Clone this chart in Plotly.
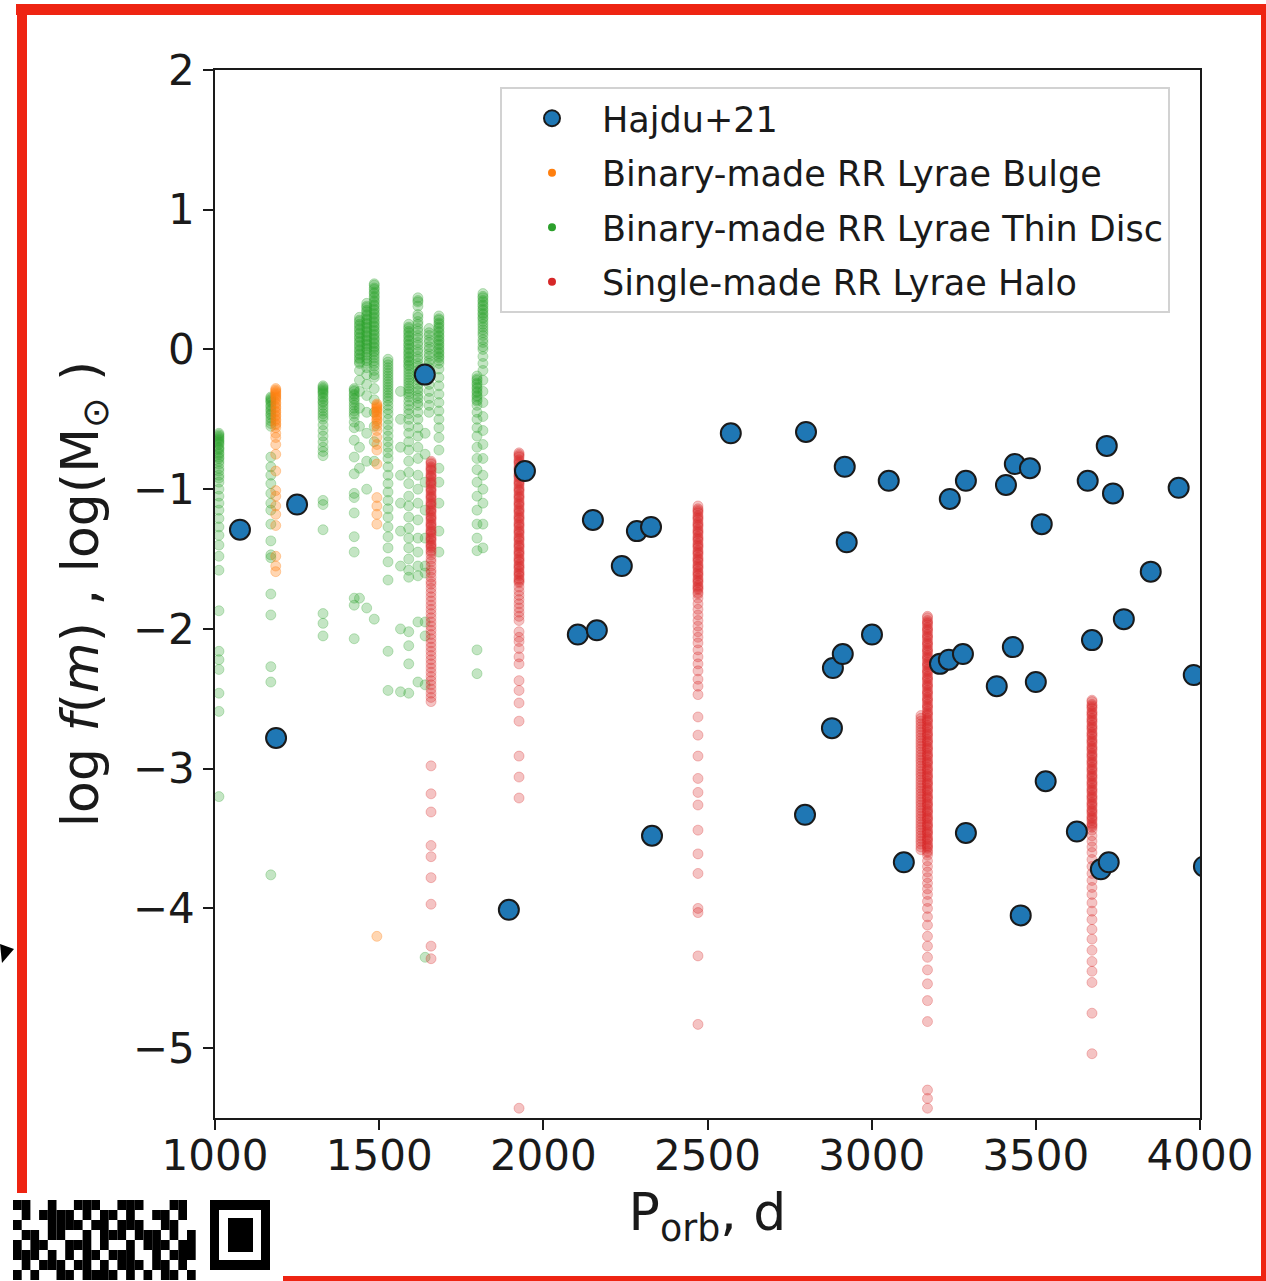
import plotly.graph_objects as go

# ---------------- data ----------------
# Hajdu+21 observed systems: orbital period (d) and log f(m)
hajdu_porb = [1076, 1186, 1250, 1639, 1895, 1944, 2105, 2163, 2151, 2239, 2285, 2328, 2331,
              2571, 2800, 2797, 2918, 2924, 2882, 2912, 2879, 3001, 3052, 3098, 3208, 3235,
              3278, 3238, 3287, 3287, 3381, 3409, 3436, 3482, 3430, 3454, 3500, 3518, 3530,
              3625, 3658, 3671, 3716, 3735, 3698, 3722, 3768, 3850, 3935, 3981, 4012]
hajdu_logfm = [-1.29, -2.78, -1.11, -0.18, -4.01, -0.87, -2.04, -2.01, -1.22, -1.55, -1.30, -1.27, -3.48,
               -0.60, -0.59, -3.33, -0.84, -1.38, -2.28, -2.18, -2.71, -2.04, -0.94, -3.67, -2.25, -2.22,
               -2.18, -1.07, -0.94, -3.46, -2.41, -0.97, -0.82, -0.85, -2.13, -4.05, -2.38, -1.25, -3.09,
               -3.45, -0.94, -2.08, -0.69, -1.03, -3.72, -3.67, -1.93, -1.59, -0.99, -2.33, -3.70]

# Binary-made RR Lyrae, Thin Disc: one list of log f(m) per orbital-period column
disc_col_porb = [1012, 1170, 1329, 1424, 1440, 1462, 1485, 1527, 1565, 1590, 1618, 1640, 1652, 1682, 1798, 1816]
disc_col_logfm = [
    [-0.60, -0.61, -0.62, -0.63, -0.64, -0.65, -0.66, -0.67, -0.68, -0.70, -0.71, -0.72, -0.74, -0.75, -0.77,
     -0.78, -0.80, -0.82, -0.85, -0.87, -0.90, -0.92, -0.95, -1.00, -1.05, -1.10, -1.15, -1.21, -1.27, -1.33,
     -1.40, -1.48, -1.58, -1.87, -2.16, -2.22, -2.29, -2.46, -2.59, -3.20],
    [-0.34, -0.35, -0.36, -0.37, -0.38, -0.40, -0.41, -0.43, -0.44, -0.46, -0.47, -0.49, -0.51, -0.53, -0.55,
     -0.77, -0.84, -0.90, -0.96, -1.03, -1.10, -1.15, -1.25, -1.37, -1.47, -1.49, -1.75, -1.90, -2.27, -2.38,
     -3.76],
    [-0.26, -0.27, -0.28, -0.29, -0.30, -0.31, -0.32, -0.34, -0.35, -0.37, -0.38, -0.40, -0.42, -0.44, -0.46,
     -0.48, -0.50, -0.54, -0.58, -0.62, -0.66, -0.70, -0.73, -0.76, -1.08, -1.11, -1.29, -1.89, -1.96, -2.05],
    [-0.28, -0.29, -0.30, -0.32, -0.33, -0.35, -0.36, -0.38, -0.40, -0.42, -0.44, -0.46, -0.48, -0.52, -0.56,
     -0.65, -0.77, -0.89, -1.03, -1.06, -1.17, -1.34, -1.45, -1.78, -1.83, -2.07],
    [0.23, 0.21, 0.20, 0.18, 0.17, 0.15, 0.14, 0.12, 0.11, 0.09, 0.08, 0.06, 0.05, 0.03, 0.02, 0.00, -0.01,
     -0.03, -0.04, -0.06, -0.07, -0.09, -0.10, -0.15, -0.22, -0.30, -0.42, -0.55, -0.70, -0.85, -1.78],
    [0.33, 0.31, 0.30, 0.28, 0.27, 0.25, 0.24, 0.22, 0.21, 0.19, 0.18, 0.16, 0.15, 0.13, 0.12, 0.10, 0.09,
     0.07, 0.06, 0.04, 0.03, 0.01, 0.00, -0.02, -0.04, -0.06, -0.08, -0.10, -0.13, -0.18, -0.25, -0.33, -0.45,
     -0.60, -0.80, -1.00, -1.85],
    [0.47, 0.46, 0.44, 0.43, 0.41, 0.40, 0.38, 0.37, 0.35, 0.34, 0.32, 0.31, 0.29, 0.28, 0.26, 0.25, 0.23,
     0.22, 0.20, 0.19, 0.17, 0.16, 0.14, 0.13, 0.11, 0.10, 0.08, 0.07, 0.05, 0.04, 0.02, 0.01, -0.01, -0.02,
     -0.04, -0.06, -0.08, -0.10, -0.12, -0.15, -0.18, -0.20, -0.28, -0.36, -0.45, -0.55, -0.66, -0.80, -1.93],
    [-0.07, -0.09, -0.11, -0.13, -0.15, -0.17, -0.19, -0.21, -0.23, -0.25, -0.27, -0.29, -0.31, -0.33, -0.35,
     -0.37, -0.40, -0.43, -0.46, -0.50, -0.54, -0.58, -0.62, -0.66, -0.70, -0.74, -0.78, -0.84, -0.90, -0.96,
     -1.02, -1.08, -1.14, -1.20, -1.27, -1.34, -1.42, -1.52, -1.65, -2.16, -2.44],
    [-0.30, -0.50, -0.70, -0.90, -1.10, -1.30, -1.55, -2.00, -2.45],
    [0.18, 0.16, 0.15, 0.13, 0.12, 0.10, 0.09, 0.07, 0.06, 0.04, 0.03, 0.01, 0.00, -0.02, -0.03, -0.05, -0.06,
     -0.08, -0.09, -0.11, -0.12, -0.14, -0.16, -0.18, -0.20, -0.22, -0.24, -0.26, -0.28, -0.30, -0.32, -0.34,
     -0.37, -0.40, -0.43, -0.46, -0.50, -0.55, -0.60, -0.66, -0.72, -0.80, -0.88, -0.96, -1.05, -1.12, -1.20,
     -1.28, -1.35, -1.42, -1.50, -1.58, -1.63, -2.02, -2.12, -2.25, -2.46],
    [0.37, 0.35, 0.34, 0.31, 0.25, 0.23, 0.20, 0.18, 0.15, 0.13, 0.10, 0.08, 0.05, 0.03, 0.00, -0.02, -0.05,
     -0.07, -0.10, -0.12, -0.15, -0.17, -0.20, -0.22, -0.25, -0.28, -0.30, -0.33, -0.35, -0.38, -0.40, -0.45,
     -0.50, -0.56, -0.62, -0.70, -0.78, -0.90, -1.00, -1.10, -1.22, -1.35, -1.45, -1.55, -1.62, -1.95, -2.38],
    [-0.60, -0.75, -0.95, -1.15, -1.35, -1.55, -1.60, -1.95, -2.05, -2.40, -4.35],
    [0.15, 0.12, 0.10, 0.07, 0.05, 0.02, 0.00, -0.03, -0.05, -0.08, -0.10, -0.13, -0.15, -0.20, -0.25, -0.30,
     -0.35, -0.40, -0.45],
    [0.24, 0.22, 0.21, 0.19, 0.18, 0.16, 0.15, 0.13, 0.12, 0.10, 0.09, 0.07, 0.06, 0.04, 0.03, 0.01, 0.00,
     -0.02, -0.03, -0.05, -0.06, -0.08, -0.10, -0.14, -0.20, -0.26, -0.32, -0.38, -0.44, -0.50, -0.56, -0.63,
     -0.72, -0.85, -0.95, -1.10, -1.30, -1.45],
    [-0.19, -0.21, -0.22, -0.24, -0.25, -0.27, -0.28, -0.30, -0.31, -0.33, -0.34, -0.36, -0.37, -0.40, -0.45,
     -0.50, -0.56, -0.62, -0.70, -0.78, -0.86, -0.95, -1.05, -1.15, -1.25, -1.35, -1.44, -2.15, -2.32],
    [0.40, 0.38, 0.37, 0.35, 0.34, 0.32, 0.31, 0.29, 0.28, 0.26, 0.25, 0.23, 0.22, 0.20, 0.18, 0.16, 0.14,
     0.12, 0.10, 0.07, 0.05, 0.02, 0.00, -0.05, -0.10, -0.15, -0.22, -0.30, -0.38, -0.48, -0.58, -0.68, -0.78,
     -0.90, -1.00, -1.10, -1.25, -1.42],
]

# Binary-made RR Lyrae, Bulge
bulge_col_porb = [1185, 1493]
bulge_col_logfm = [
    [-0.28, -0.29, -0.30, -0.31, -0.32, -0.33, -0.34, -0.35, -0.36, -0.38, -0.39, -0.41, -0.42, -0.44, -0.45,
     -0.47, -0.48, -0.50, -0.51, -0.53, -0.54, -0.56, -0.60, -0.63, -0.68, -0.75, -0.87, -1.01, -1.05, -1.12,
     -1.18, -1.26, -1.48, -1.55, -1.59],
    [-0.39, -0.40, -0.41, -0.42, -0.43, -0.44, -0.45, -0.47, -0.48, -0.50, -0.51, -0.53, -0.55, -0.58, -0.63,
     -0.68, -0.72, -0.82, -1.06, -1.12, -1.18, -1.25, -4.20],
]

# Single-made RR Lyrae, Halo
halo_col_porb = [1658, 1926, 2471, 3150, 3170, 3671]
halo_col_logfm = [
    [-0.80, -0.81, -0.82, -0.84, -0.85, -0.86, -0.87, -0.89,
     -0.90, -0.91, -0.92, -0.94, -0.95, -0.96, -0.97, -0.99,
     -1.00, -1.01, -1.02, -1.04, -1.05, -1.06, -1.07, -1.09,
     -1.10, -1.11, -1.12, -1.14, -1.15, -1.16, -1.17, -1.19,
     -1.20, -1.21, -1.22, -1.24, -1.25, -1.26, -1.27, -1.29,
     -1.30, -1.31, -1.32, -1.34, -1.35, -1.36, -1.37, -1.39,
     -1.40, -1.41, -1.42, -1.44, -1.45, -1.47,
     -1.50, -1.52, -1.55, -1.58, -1.60, -1.63, -1.66, -1.68, -1.71, -1.74, -1.77, -1.80, -1.83, -1.86, -1.89,
     -1.92, -1.95, -1.98, -2.01, -2.04, -2.07, -2.10, -2.13, -2.16, -2.19, -2.22, -2.25, -2.28, -2.31, -2.34,
     -2.37, -2.40, -2.43, -2.46, -2.49, -2.52,
     -2.98, -3.18, -3.31, -3.55, -3.63, -3.78, -3.97, -4.27, -4.36],
    [-0.74, -0.75, -0.76, -0.77, -0.79,
     -0.80, -0.81, -0.82, -0.84, -0.85, -0.86, -0.87, -0.89,
     -0.90, -0.91, -0.92, -0.94, -0.95, -0.96, -0.97, -0.99,
     -1.00, -1.01, -1.02, -1.04, -1.05, -1.06, -1.07, -1.09,
     -1.10, -1.11, -1.12, -1.14, -1.15, -1.16, -1.17, -1.19,
     -1.20, -1.21, -1.22, -1.24, -1.25, -1.26, -1.27, -1.29,
     -1.30, -1.31, -1.32, -1.34, -1.35, -1.36, -1.37, -1.39,
     -1.40, -1.41, -1.42, -1.44, -1.45, -1.46, -1.47, -1.49,
     -1.50, -1.51, -1.52, -1.54, -1.55, -1.56, -1.57, -1.59,
     -1.60, -1.61, -1.62, -1.64, -1.65, -1.66, -1.67,
     -1.70, -1.73, -1.76, -1.79, -1.82, -1.85, -1.88, -1.91, -1.94, -2.02, -2.06, -2.09, -2.14, -2.20, -2.25,
     -2.37, -2.44, -2.53, -2.66, -2.91, -3.06, -3.21, -5.43],
    [-1.12, -1.14, -1.15, -1.16, -1.17, -1.19,
     -1.20, -1.21, -1.22, -1.24, -1.25, -1.26, -1.27, -1.29,
     -1.30, -1.31, -1.32, -1.34, -1.35, -1.36, -1.37, -1.39,
     -1.40, -1.41, -1.42, -1.44, -1.45, -1.46, -1.47, -1.49,
     -1.50, -1.51, -1.52, -1.54, -1.55, -1.56, -1.57, -1.59,
     -1.60, -1.61, -1.62, -1.64, -1.65, -1.66, -1.67, -1.69,
     -1.70, -1.71, -1.72, -1.74, -1.75,
     -1.78, -1.82, -1.86, -1.90, -1.94, -1.98, -2.02, -2.06, -2.10, -2.15, -2.20, -2.25, -2.30, -2.36, -2.41,
     -2.47, -2.63, -2.76, -2.91, -3.07, -3.17, -3.26, -3.44, -3.61, -3.75, -4.00, -4.03, -4.34, -4.83],
    [-2.62, -2.64, -2.66, -2.68, -2.70, -2.72, -2.74, -2.76, -2.78, -2.80, -2.82, -2.84, -2.86, -2.88, -2.90,
     -2.92, -2.94, -2.96, -2.98, -3.00, -3.02, -3.04, -3.06, -3.08, -3.10, -3.12, -3.14, -3.16, -3.18, -3.20,
     -3.22, -3.24, -3.26, -3.28, -3.30, -3.32, -3.34, -3.36, -3.38, -3.40, -3.42, -3.44, -3.46, -3.48, -3.50,
     -3.52, -3.54, -3.56, -3.58],
    [-1.91, -1.92, -1.94, -1.95, -1.96, -1.97, -1.99,
     -2.00, -2.01, -2.02, -2.04, -2.05, -2.06, -2.07, -2.09,
     -2.10, -2.11, -2.12, -2.14, -2.15, -2.16, -2.17, -2.19,
     -2.20, -2.21, -2.22, -2.24, -2.25, -2.26, -2.27, -2.29,
     -2.30, -2.31, -2.32, -2.34, -2.35, -2.36, -2.37, -2.39,
     -2.40, -2.41, -2.42, -2.44, -2.45, -2.46, -2.47, -2.49,
     -2.50, -2.51, -2.52, -2.54, -2.55, -2.56, -2.57, -2.59,
     -2.60, -2.61, -2.62, -2.64, -2.65, -2.66, -2.67, -2.69,
     -2.70, -2.71, -2.72, -2.74, -2.75, -2.76, -2.77, -2.79,
     -2.80, -2.81, -2.82, -2.84, -2.85, -2.86, -2.87, -2.89,
     -2.90, -2.91, -2.92, -2.94, -2.95, -2.96, -2.97, -2.99,
     -3.00, -3.01, -3.02, -3.04, -3.05, -3.06, -3.07, -3.09,
     -3.10, -3.11, -3.12, -3.14, -3.15, -3.16, -3.17, -3.19,
     -3.20, -3.21, -3.22, -3.24, -3.25, -3.26, -3.27, -3.29,
     -3.30, -3.31, -3.32, -3.34, -3.35, -3.36, -3.37, -3.39,
     -3.40, -3.41, -3.42, -3.44, -3.45, -3.46, -3.47, -3.49,
     -3.50, -3.51, -3.52, -3.54, -3.55, -3.56, -3.57, -3.59,
     -3.60, -3.62,
     -3.66, -3.70, -3.74, -3.78, -3.82, -3.86, -3.90, -3.95, -4.00, -4.06, -4.12, -4.20, -4.27, -4.35, -4.44,
     -4.54, -4.66, -4.81, -5.30, -5.36, -5.43],
    [-2.51, -2.52, -2.54, -2.55, -2.56, -2.57, -2.59,
     -2.60, -2.61, -2.62, -2.64, -2.65, -2.66, -2.67, -2.69,
     -2.70, -2.71, -2.72, -2.74, -2.75, -2.76, -2.77, -2.79,
     -2.80, -2.81, -2.82, -2.84, -2.85, -2.86, -2.87, -2.89,
     -2.90, -2.91, -2.92, -2.94, -2.95, -2.96, -2.97, -2.99,
     -3.00, -3.01, -3.02, -3.04, -3.05, -3.06, -3.07, -3.09,
     -3.10, -3.11, -3.12, -3.14, -3.15, -3.16, -3.17, -3.19,
     -3.20, -3.21, -3.22, -3.24, -3.25, -3.26, -3.27, -3.29,
     -3.30, -3.31, -3.32, -3.34, -3.35, -3.36, -3.37, -3.39,
     -3.40, -3.41, -3.42, -3.44,
     -3.48, -3.52, -3.56, -3.60, -3.65, -3.70, -3.75, -3.80, -3.85, -3.90, -3.96, -4.02, -4.08, -4.15, -4.22,
     -4.30, -4.38, -4.45, -4.53, -4.75, -5.04],
]

x_ticks = [1000, 1500, 2000, 2500, 3000, 3500, 4000]
y_ticks = [-5, -4, -3, -2, -1, 0, 1, 2]

legend_labels = ["Hajdu+21", "Binary-made RR Lyrae Bulge",
                 "Binary-made RR Lyrae Thin Disc", "Single-made RR Lyrae Halo"]

# decorative QR fragment in the lower-left corner of the photographed page (1 = dark module)
qr_rows = [
    "1100100111001110001100",
    "0101111010110100110100",
    "1000111101101110011000",
    "0110110010111011101010",
    "1011001110100101110110",
    "1110101011011100101110",
    "0101110110101110110100",
    "1010011011110101011010",
]

# ---------------- figure geometry ----------------
W, H = 1266, 1281
ML, MR, MT, MB = 215, 66, 70, 163
PW, PH = W - ML - MR, H - MT - MB
FONT = "DejaVu Sans"
INK = "#1a1a1a"


def fx(p):
    return (p - ML) / PW


def fy(p):
    return (H - MB - p) / PH


def flatten(cols_x, cols_y):
    xs, ys = [], []
    for cx, cy in zip(cols_x, cols_y):
        xs += [cx] * len(cy)
        ys += cy
    return xs, ys


GREEN = "rgba(44,160,44,0.28)"
ORANGE = "rgba(255,127,14,0.32)"
RED = "rgba(214,39,40,0.28)"
BLUE = "#1f77b4"

fig = go.Figure()

# legend-only entries (solid symbols like the reference legend)
legend_styles = [
    dict(size=20, color=BLUE, line=dict(color=INK, width=2)),
    dict(size=8, color="#ff7f0e"),
    dict(size=8, color="#2ca02c"),
    dict(size=8, color="#d62728"),
]
for i, (lab, st) in enumerate(zip(legend_labels, legend_styles)):
    fig.add_trace(go.Scatter(x=[None], y=[None], mode="markers", name=lab,
                             marker=st, legendgroup="g%d" % i, showlegend=True))

dx, dy = flatten(disc_col_porb, disc_col_logfm)
fig.add_trace(go.Scatter(x=dx, y=dy, mode="markers", showlegend=False, hoverinfo="skip",
                         marker=dict(size=10, color=GREEN, line=dict(color=GREEN, width=1))))
bx, by = flatten(bulge_col_porb, bulge_col_logfm)
fig.add_trace(go.Scatter(x=bx, y=by, mode="markers", showlegend=False, hoverinfo="skip",
                         marker=dict(size=10, color=ORANGE, line=dict(color=ORANGE, width=1))))
hx, hy = flatten(halo_col_porb, halo_col_logfm)
fig.add_trace(go.Scatter(x=hx, y=hy, mode="markers", showlegend=False, hoverinfo="skip",
                         marker=dict(size=10, color=RED, line=dict(color=RED, width=1))))
fig.add_trace(go.Scatter(x=hajdu_porb, y=hajdu_logfm, mode="markers", showlegend=False,
                         marker=dict(size=20, color=BLUE, line=dict(color=INK, width=2))))

# ---------------- page decorations: red frame, arrow tip, QR fragment ----------------
shapes = []
FRAME = "#ee2412"


def rect(x0, y0, x1, y1, color):
    return dict(type="rect", xref="paper", yref="paper", x0=fx(x0), x1=fx(x1), y0=fy(y0), y1=fy(y1),
                fillcolor=color, line=dict(width=0), layer="above")


shapes.append(rect(16, 4, 1266, 15, FRAME))
shapes.append(rect(17, 4, 27, 1193, FRAME))
shapes.append(rect(1261, 4, 1266, 1281, FRAME))
shapes.append(rect(283, 1276, 1266, 1281, FRAME))
shapes.append(dict(type="path", xref="paper", yref="paper", layer="above",
                   path="M %f,%f L %f,%f L %f,%f Z" % (fx(0), fy(944), fx(14), fy(949), fx(2), fy(963)),
                   fillcolor="black", line=dict(width=0)))
MOD_W, MOD_H = 8.7, 10.0
for r, row in enumerate(qr_rows):
    for c, v in enumerate(row):
        if v == "1":
            x0 = 13 + c * MOD_W
            y0 = 1200 + r * MOD_H
            shapes.append(rect(x0, y0, x0 + MOD_W, y0 + MOD_H, "black"))
shapes.append(rect(210, 1200, 270, 1270, "black"))
shapes.append(rect(219, 1210, 261, 1260, "white"))
shapes.append(rect(228, 1218, 253, 1252, "black"))

fig.update_layout(
    width=W, height=H,
    margin=dict(l=ML, r=MR, t=MT, b=MB, pad=0),
    paper_bgcolor="white", plot_bgcolor="white",
    font=dict(family=FONT, color=INK),
    shapes=shapes,
    legend=dict(x=fx(500), y=fy(87), xanchor="left", yanchor="top",
                bgcolor="rgba(255,255,255,0.85)", bordercolor="#d2d2d2", borderwidth=2,
                font=dict(family=FONT, size=35, color=INK),
                itemwidth=90, tracegroupgap=6),
    xaxis=dict(range=[1000, 4000], tickvals=x_ticks, ticktext=[str(v) for v in x_ticks],
               ticks="outside", ticklen=10, tickwidth=1.5, tickcolor=INK,
               showline=True, linecolor=INK, linewidth=1.8, mirror=True,
               showgrid=False, zeroline=False, ticklabelstandoff=-10,
               tickfont=dict(family=FONT, size=42, color=INK),
               title=dict(text="P<sub>orb</sub>, d", font=dict(family=FONT, size=52, color=INK),
                          standoff=14)),
    yaxis=dict(range=[-5.5, 2], tickvals=y_ticks,
               ticks="outside", ticklen=10, tickwidth=1.5, tickcolor=INK,
               showline=True, linecolor=INK, linewidth=1.8, mirror=True,
               showgrid=False, zeroline=False,
               tickfont=dict(family=FONT, size=42, color=INK),
               title=dict(text="log <i>f</i>(<i>m</i>) , log(M<sub>⊙</sub> )",
                          font=dict(family=FONT, size=52, color=INK), standoff=18)),
)

fig.write_html("out.html", config={"displayModeBar": False},
               post_script="document.body.style.margin='0';")
